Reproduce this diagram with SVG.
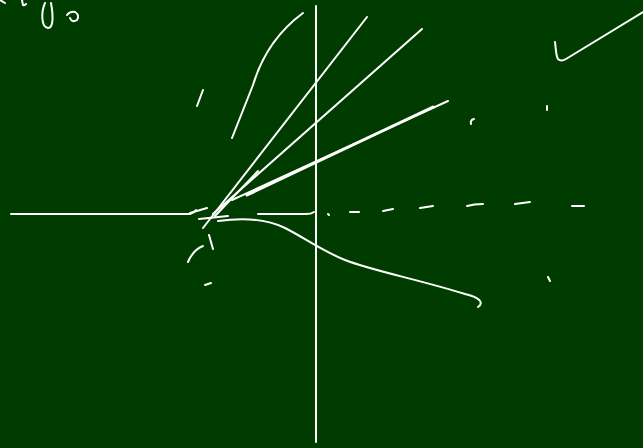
<svg xmlns="http://www.w3.org/2000/svg" width="643" height="448" viewBox="0 0 643 448">
<style>
.s{fill:none;stroke:#ffffff;stroke-width:2;stroke-linecap:round;stroke-linejoin:round}
.t{stroke-width:3}
</style>
<rect width="643" height="448" fill="#003c00"/>
<g id="scribble">
<path class="s" d="M0,0 L5,3"/>
<path class="s" d="M22,0 L23,5 Q24,6 26,4"/>
<path class="s" d="M45,3 C41,12 41,27 48,28 C54,28 53,14 51,3"/>
<path class="s" d="M67,15 Q70,11 75,12 Q80,15 77,20 Q72,23 70,18"/>
</g>
<g id="axes">
<path class="s" d="M316,6 L316,442"/>
<path class="s" d="M11,214 L190,214 Q194,213 196,210"/>
<path class="s" d="M190,213 L207,208"/>
<path class="s" d="M258,214 L306,214 Q311,214 314,212"/>
</g>
<g id="dashes">
<path class="s" d="M328,214 L329,215"/>
<path class="s" d="M350,212 L359,212"/>
<path class="s" d="M383,211 L393,209"/>
<path class="s" d="M420,208 L433,206"/>
<path class="s" d="M467,206 Q474,204 483,204"/>
<path class="s" d="M515,204 L530,202"/>
<path class="s" d="M572,206 L584,206"/>
</g>
<g id="rays">
<path class="s" d="M367,17 L203,228"/>
<path class="s" d="M422,29 L213,214"/>
<path class="s" d="M448,101 L232,200"/>
<path class="s t" d="M433,107 L247,195"/>
<path class="s" d="M258,171 L215,216"/>
<path class="s" d="M199,219 L228,216"/>
<path class="s" d="M303,13 C280,30 262,55 253,85 L232,138"/>
<path class="s" d="M197,106 L203,90"/>
</g>
<g id="curve">
<path class="s" d="M218,221 C240,218 265,218 285,228 C305,238 320,250 345,260 C370,270 420,280 465,294 C478,297 485,302 478,307"/>
</g>
<g id="marks">
<path class="s" d="M203,246 Q193,250 188,262"/>
<path class="s" d="M209,235 L213,249"/>
<path class="s" d="M205,285 L211,283"/>
<path class="s" d="M474,119 Q470,120 471,124"/>
<path class="s" d="M547,106 L547,110"/>
<path class="s" d="M548,277 L550,281"/>
<path class="s" d="M555,42 C556,50 556,56 558,59 Q561,62 566,59 L643,12"/>
</g>
</svg>
